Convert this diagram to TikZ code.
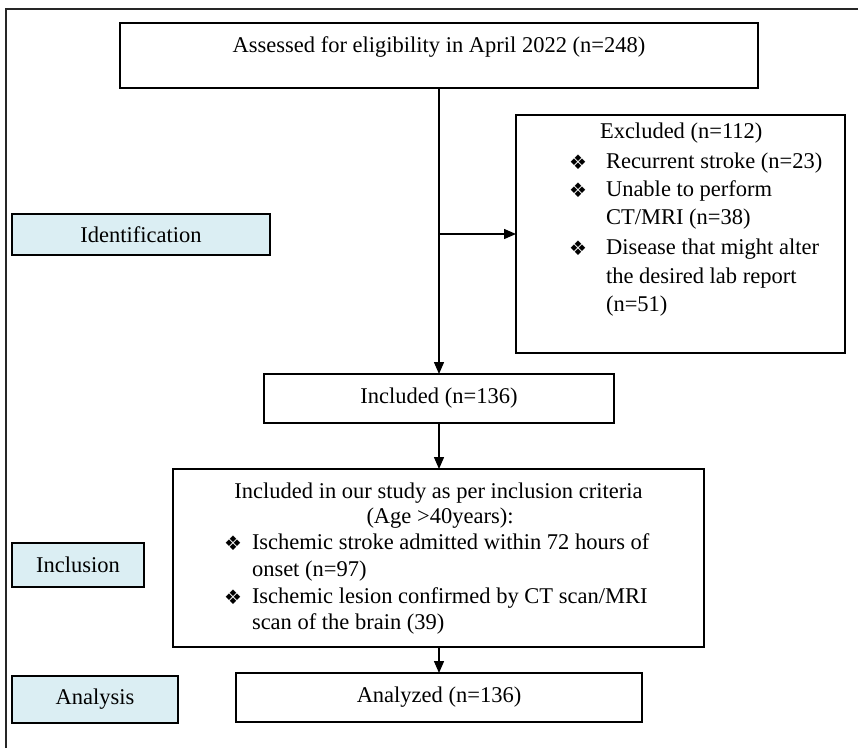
\documentclass[tikz,border=0pt]{standalone}
\usepackage{fontspec}
\setmainfont{Liberation Serif}
\newfontfamily\symfont{DejaVu Sans}
\usetikzlibrary{arrows.meta}
\definecolor{lblue}{RGB}{219,238,243}
\begin{document}
\begin{tikzpicture}[x=1pt,y=-1pt,
  box/.style={draw=black, line width=1.4pt, inner sep=0pt, outer sep=0pt, anchor=center, font=\fontsize{22.5}{26}\selectfont},
  side/.style={box, fill=lblue},
  txt/.style={inner sep=0pt, outer sep=0pt, font=\fontsize{22.5}{26}\selectfont, anchor=base west},
  ctxt/.style={txt, anchor=base},
  bul/.style={inner sep=0pt, outer sep=0pt, font=\symfont\fontsize{20}{20}\selectfont, anchor=center},
  arr/.style={line width=1.4pt, -{Triangle[length=12pt,width=10pt]}}]
\useasboundingbox (0,0) rectangle (858,748);
% outer frame
\draw[line width=1.4pt, black!85] (6,748) -- (6,9) -- (858,9);
% boxes
\node[box, minimum width=638pt, minimum height=65pt] (top) at (439,55.5) {};
\node[ctxt] (toptxt) at (439,52) {Assessed for eligibility in April 2022 (n=248)};
\node[box, minimum width=329pt, minimum height=238pt] (excl) at (680.5,234) {};
\node[box, minimum width=350pt, minimum height=49pt] (incl) at (439,398.5) {Included (n=136)};
\node[box, minimum width=531pt, minimum height=178pt] (crit) at (438.5,558) {};
\node[box, minimum width=406pt, minimum height=49pt] (anal) at (439,697.5) {Analyzed (n=136)};
% side labels
\node[side, minimum width=258pt, minimum height=41pt] (sid) at (141,234.5) {Identification};
\node[side, minimum width=132pt, minimum height=44pt] (sinc) at (78,565) {Inclusion};
\node[side, minimum width=166pt, minimum height=47pt] (sana) at (95,699.5) {Analysis};
% excluded text
\node[txt] (e1) at (600,138) {Excluded (n=112)};
\node[bul] (eb1) at (578,162) {❖};
\node[txt] (e2) at (606,168) {Recurrent stroke (n=23)};
\node[bul] (eb2) at (578,190) {❖};
\node[txt] (e3) at (606,196) {Unable to perform};
\node[txt] (e4) at (606,224) {CT/MRI (n=38)};
\node[bul] (eb3) at (578,248) {❖};
\node[txt] (e5) at (606,254) {Disease that might alter};
\node[txt] (e6) at (606,283) {the desired lab report};
\node[txt] (e7) at (606,311) {(n=51)};
% inclusion criteria text
\node[ctxt] (c1) at (438.5,498) {Included in our study as per inclusion criteria};
\node[ctxt] (c2) at (440,523) {(Age >40years):};
\node[bul] (cb1) at (233,543) {❖};
\node[txt] (c3) at (252,549) {Ischemic stroke admitted within 72 hours of};
\node[txt] (c4) at (252,576) {onset (n=97)};
\node[bul] (cb2) at (233,597) {❖};
\node[txt] (c5) at (252,603) {Ischemic lesion confirmed by CT scan/MRI};
\node[txt] (c6) at (252,629) {scan of the brain (39)};
% connectors
\draw[arr] (top.south) -- (incl.north);
\coordinate (br) at (top.south |- excl.west);
\draw[arr] (br) -- (excl.west);
\draw[arr] (incl.south) -- (crit.north -| incl.south);
\draw[arr] (crit.south -| anal.north) -- (anal.north);
\end{tikzpicture}
\end{document}
